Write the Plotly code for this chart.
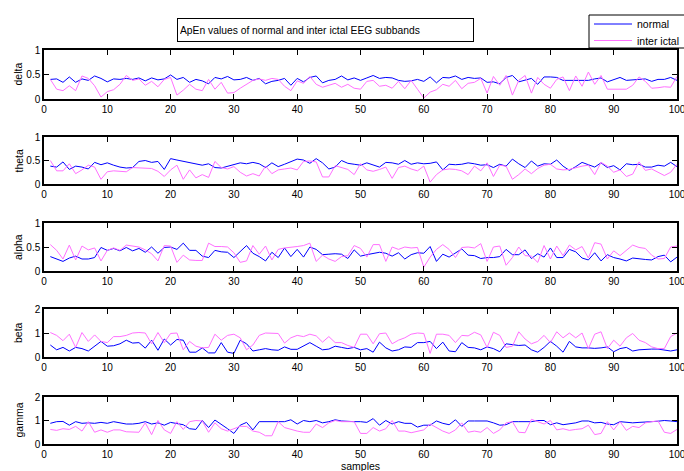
import plotly.graph_objects as go

samples = list(range(1, 101))

delta_normal = [0.40,0.41,0.34,0.45,0.34,0.41,0.38,0.47,0.42,0.35,0.41,0.40,0.42,0.40,0.43,0.37,0.43,0.39,0.41,0.49,
                0.40,0.44,0.34,0.40,0.37,0.31,0.44,0.41,0.46,0.39,0.40,0.44,0.38,0.42,0.31,0.36,0.38,0.42,0.28,0.42,
                0.35,0.44,0.47,0.33,0.38,0.40,0.47,0.39,0.43,0.38,0.43,0.48,0.42,0.44,0.43,0.38,0.36,0.37,0.40,0.36,
                0.45,0.33,0.44,0.43,0.47,0.40,0.44,0.42,0.43,0.34,0.35,0.31,0.44,0.48,0.35,0.39,0.42,0.30,0.45,0.45,
                0.44,0.38,0.38,0.38,0.37,0.38,0.41,0.43,0.35,0.39,0.44,0.38,0.39,0.39,0.41,0.36,0.40,0.40,0.44,0.38]
delta_ictal = [0.40,0.20,0.17,0.27,0.17,0.47,0.42,0.27,0.04,0.15,0.19,0.30,0.48,0.38,0.41,0.28,0.36,0.25,0.40,0.44,
               0.08,0.18,0.30,0.20,0.17,0.40,0.20,0.34,0.12,0.13,0.22,0.30,0.38,0.41,0.38,0.42,0.40,0.26,0.17,0.37,
               0.32,0.46,0.30,0.24,0.28,0.32,0.24,0.30,0.22,0.20,0.36,0.38,0.26,0.28,0.22,0.36,0.21,0.38,0.20,0.02,
               0.14,0.19,0.30,0.26,0.38,0.21,0.32,0.34,0.42,0.12,0.46,0.28,0.48,0.08,0.38,0.48,0.12,0.44,0.30,0.22,
               0.40,0.45,0.17,0.47,0.26,0.55,0.30,0.48,0.20,0.20,0.19,0.20,0.28,0.45,0.36,0.22,0.23,0.25,0.24,0.46]

theta_normal = [0.38,0.36,0.47,0.31,0.38,0.36,0.32,0.46,0.41,0.45,0.40,0.36,0.34,0.35,0.48,0.50,0.46,0.48,0.31,0.54,
                0.51,0.48,0.45,0.42,0.40,0.43,0.35,0.34,0.38,0.41,0.45,0.43,0.46,0.43,0.35,0.45,0.37,0.42,0.48,0.53,
                0.51,0.44,0.54,0.45,0.32,0.36,0.50,0.44,0.42,0.40,0.45,0.41,0.36,0.46,0.45,0.42,0.50,0.42,0.45,0.43,
                0.44,0.47,0.30,0.42,0.41,0.42,0.45,0.43,0.40,0.41,0.35,0.42,0.38,0.53,0.43,0.35,0.49,0.38,0.43,0.42,
                0.51,0.38,0.29,0.37,0.46,0.41,0.36,0.45,0.35,0.39,0.30,0.43,0.41,0.42,0.36,0.36,0.40,0.38,0.46,0.37]
theta_ictal = [0.50,0.28,0.28,0.43,0.22,0.30,0.40,0.36,0.10,0.26,0.28,0.27,0.26,0.35,0.34,0.33,0.33,0.27,0.16,0.30,
               0.40,0.10,0.30,0.13,0.20,0.14,0.48,0.35,0.32,0.37,0.25,0.17,0.22,0.17,0.38,0.22,0.30,0.32,0.34,0.30,
               0.48,0.49,0.47,0.15,0.15,0.39,0.35,0.31,0.20,0.43,0.30,0.27,0.31,0.36,0.12,0.35,0.38,0.32,0.28,0.38,
               0.04,0.20,0.30,0.32,0.31,0.28,0.20,0.38,0.28,0.45,0.16,0.40,0.38,0.10,0.20,0.32,0.22,0.33,0.40,0.42,
               0.32,0.30,0.31,0.35,0.38,0.40,0.20,0.46,0.38,0.25,0.30,0.16,0.21,0.47,0.29,0.32,0.25,0.18,0.25,0.42]

alpha_normal = [0.30,0.25,0.20,0.27,0.31,0.25,0.25,0.28,0.49,0.43,0.47,0.42,0.49,0.42,0.47,0.39,0.50,0.37,0.49,0.50,
                0.45,0.58,0.43,0.43,0.31,0.28,0.43,0.40,0.39,0.28,0.40,0.53,0.37,0.30,0.21,0.39,0.28,0.48,0.30,0.45,
                0.29,0.50,0.45,0.34,0.35,0.36,0.35,0.26,0.44,0.31,0.34,0.37,0.39,0.37,0.31,0.38,0.25,0.34,0.38,0.37,
                0.51,0.20,0.35,0.29,0.38,0.46,0.33,0.32,0.26,0.28,0.28,0.30,0.45,0.34,0.34,0.44,0.26,0.36,0.29,0.48,
                0.28,0.28,0.45,0.40,0.27,0.23,0.38,0.21,0.34,0.28,0.25,0.21,0.27,0.25,0.24,0.23,0.30,0.33,0.19,0.29]
alpha_ictal = [0.55,0.43,0.25,0.54,0.23,0.52,0.44,0.48,0.21,0.43,0.48,0.43,0.54,0.52,0.50,0.44,0.36,0.21,0.53,0.52,
               0.18,0.33,0.23,0.22,0.22,0.58,0.51,0.51,0.50,0.38,0.18,0.21,0.53,0.35,0.52,0.23,0.45,0.48,0.49,0.51,
               0.53,0.58,0.20,0.33,0.25,0.20,0.30,0.32,0.53,0.47,0.29,0.55,0.55,0.20,0.50,0.45,0.50,0.48,0.49,0.08,
               0.29,0.45,0.55,0.45,0.28,0.49,0.50,0.48,0.57,0.20,0.50,0.52,0.12,0.28,0.50,0.32,0.31,0.18,0.53,0.25,
               0.52,0.32,0.54,0.44,0.51,0.27,0.59,0.56,0.25,0.42,0.32,0.44,0.54,0.49,0.47,0.33,0.25,0.26,0.50,0.52]

beta_normal = [0.50,0.30,0.40,0.25,0.40,0.35,0.25,0.45,0.65,0.45,0.47,0.55,0.70,0.58,0.60,0.37,0.70,0.28,0.75,0.50,
               0.73,0.70,0.20,0.20,0.38,0.17,0.17,0.60,0.20,0.15,0.70,0.55,0.25,0.30,0.35,0.30,0.28,0.42,0.32,0.32,
               0.45,0.60,0.45,0.30,0.33,0.45,0.40,0.35,0.40,0.30,0.35,0.20,0.62,0.38,0.25,0.30,0.42,0.40,0.60,0.60,
               0.65,0.35,0.62,0.25,0.22,0.60,0.40,0.38,0.30,0.42,0.35,0.22,0.55,0.52,0.48,0.50,0.30,0.20,0.40,0.65,
               0.45,0.20,0.65,0.42,0.38,0.38,0.36,0.38,0.42,0.22,0.35,0.40,0.25,0.30,0.33,0.33,0.33,0.30,0.25,0.30]
beta_ictal = [1.02,0.90,0.68,0.95,0.40,1.02,0.65,0.92,0.65,0.60,0.85,0.85,0.90,1.00,1.02,1.00,0.55,1.02,0.60,0.98,
              1.00,0.30,0.65,0.45,0.38,0.40,0.95,0.70,0.90,0.95,0.80,0.30,0.50,0.90,1.00,1.00,0.98,0.58,0.80,0.90,
              0.85,0.95,0.88,0.62,0.85,0.60,0.60,0.48,0.40,0.95,0.95,0.55,0.97,1.00,0.55,0.70,0.80,0.95,1.00,0.98,
              0.15,0.95,0.95,0.90,0.60,0.90,0.88,1.03,0.92,0.40,1.03,0.90,0.40,0.45,1.05,0.75,0.55,0.65,0.90,0.60,
              1.05,0.80,1.00,0.80,1.00,0.35,0.95,1.05,0.35,0.70,0.45,0.80,0.98,0.70,0.60,0.42,0.35,0.35,0.85,1.00]

gamma_normal = [0.88,0.95,0.96,0.80,0.95,0.88,0.90,0.88,0.92,0.88,0.95,0.90,0.85,0.85,0.88,0.95,0.85,0.90,0.80,0.92,
                0.88,0.82,0.65,0.62,1.00,0.70,1.02,0.85,0.65,0.45,0.80,0.92,0.60,0.95,0.95,0.98,0.98,0.95,1.03,0.85,
                1.00,0.95,1.00,0.90,0.95,1.03,0.98,0.95,0.95,0.95,0.92,1.08,0.80,1.00,0.85,0.95,0.88,0.88,0.72,0.80,
                0.80,0.98,0.88,0.82,1.03,0.75,0.98,0.98,0.98,0.98,0.90,0.80,0.82,0.95,0.95,0.95,0.95,1.00,1.00,0.82,
                0.90,0.82,0.85,0.90,0.98,0.98,0.90,0.92,0.85,0.82,0.95,0.93,0.90,0.92,0.95,0.95,0.97,1.00,0.98,0.95]
gamma_ictal = [0.62,0.58,0.65,0.62,0.75,0.55,0.95,0.50,0.60,0.50,0.60,0.60,0.52,0.50,0.50,0.90,0.40,1.00,0.60,0.45,
               0.95,0.62,0.95,1.00,0.98,0.50,0.90,0.65,0.55,0.65,0.75,0.75,0.55,0.50,0.35,0.35,0.95,0.70,0.62,0.55,
               0.50,0.50,0.85,0.70,0.90,1.00,0.95,0.95,0.95,0.45,0.45,0.70,0.55,0.65,1.00,0.55,0.55,0.48,0.55,0.60,
               0.85,0.70,0.55,0.45,0.60,0.90,0.50,0.55,0.50,0.70,0.45,0.60,0.90,0.95,0.50,0.48,1.05,0.95,0.85,1.00,
               0.60,0.65,0.58,0.62,0.65,0.80,0.40,0.45,0.95,0.60,0.95,0.58,0.75,0.70,0.90,0.95,0.98,0.50,0.45,0.62]

band_names = ["delta", "theta", "alpha", "beta", "gamma"]
normal_series = [delta_normal, theta_normal, alpha_normal, beta_normal, gamma_normal]
ictal_series = [delta_ictal, theta_ictal, alpha_ictal, beta_ictal, gamma_ictal]
y_max = [1, 1, 1, 2, 2]
y_tickvals = [[0, 0.5, 1], [0, 0.5, 1], [0, 0.5, 1], [0, 1, 2], [0, 1, 2]]
y_ticktext = [["0", "0.5", "1"], ["0", "0.5", "1"], ["0", "0.5", "1"], ["0", "1", "2"], ["0", "1", "2"]]
x_tickvals = list(range(0, 101, 10))

title_text = "ApEn values of normal and inter ictal EEG subbands"
x_title = "samples"
legend_names = ["normal", "inter ictal"]

W, H = 684, 471
FONT = "Liberation Sans, Arial, sans-serif"
BLUE = "#0000ff"
PINK = "#ff70ff"

# pixel layout of the five panels (top, bottom)
panel_px = [(50, 99), (137, 184), (223, 271), (309, 357), (397, 444)]
x_left, x_right = 44, 677

legend_common = dict(
    x=589 / W, xanchor="left", yanchor="middle",
    bgcolor="rgba(0,0,0,0)", borderwidth=0,
    font=dict(family=FONT, size=10.5, color="black"),
    itemwidth=38, tracegroupgap=0,
)

fig = go.Figure()
layout = dict(
    width=W, height=H,
    margin=dict(l=0, r=0, t=0, b=0, autoexpand=False),
    paper_bgcolor="white", plot_bgcolor="white",
    font=dict(family=FONT, size=10, color="black"),
    showlegend=True,
    legend=dict(y=1 - 24 / H, **legend_common),
    legend2=dict(y=1 - 40.5 / H, **legend_common),
    shapes=[dict(
        type="rect", xref="paper", yref="paper",
        x0=589 / W, x1=700 / W, y0=1 - 48 / H, y1=1 - 15 / H,
        line=dict(color="black", width=1), fillcolor="white", layer="above",
    )],
)
annotations = []
for i, name in enumerate(band_names):
    n = i + 1
    xa = "x" if n == 1 else f"x{n}"
    ya = "y" if n == 1 else f"y{n}"
    top, bot = panel_px[i]
    fig.add_trace(go.Scatter(x=samples, y=normal_series[i], mode="lines",
                             line=dict(color=BLUE, width=1), name=legend_names[0],
                             showlegend=(i == 0), legend="legend", xaxis=xa, yaxis=ya))
    fig.add_trace(go.Scatter(x=samples, y=ictal_series[i], mode="lines",
                             line=dict(color=PINK, width=1), name=legend_names[1],
                             showlegend=(i == 0), legend="legend2", xaxis=xa, yaxis=ya))
    axkey_x = "xaxis" if n == 1 else f"xaxis{n}"
    axkey_y = "yaxis" if n == 1 else f"yaxis{n}"
    layout[axkey_x] = dict(
        domain=[x_left / W, x_right / W], range=[0, 100], anchor=ya,
        tickvals=x_tickvals, ticks="inside", ticklen=5, tickcolor="black", tickwidth=1,
        showline=True, linecolor="black", linewidth=1.5, mirror="ticks",
        ticklabeloverflow="allow",
        showgrid=False, zeroline=False, tickfont=dict(family=FONT, size=10, color="black"),
    )
    layout[axkey_y] = dict(
        domain=[1 - bot / H, 1 - top / H], range=[0, y_max[i]], anchor=xa,
        tickvals=y_tickvals[i], ticktext=y_ticktext[i], ticks="inside", ticklen=5,
        tickcolor="black", tickwidth=1,
        showline=True, linecolor="black", linewidth=1.5, mirror="ticks",
        showgrid=False, zeroline=False, tickfont=dict(family=FONT, size=10, color="black"),
    )
    annotations.append(dict(
        text=name, textangle=-90, xref="paper", yref="paper",
        x=18 / W, y=1 - (top + bot) / 2 / H, xanchor="center", yanchor="middle",
        showarrow=False, font=dict(family=FONT, size=10.5, color="black"),
    ))

annotations.append(dict(
    text=title_text, xref="paper", yref="paper",
    x=177 / W, y=1 - 18 / H, xanchor="left", yanchor="top",
    showarrow=False, align="left",
    width=291, height=18, bordercolor="black", borderwidth=1, borderpad=2,
    bgcolor="white", font=dict(family=FONT, size=10.3, color="black"),
))
annotations.append(dict(
    text=x_title, xref="paper", yref="paper",
    x=(x_left + x_right) / 2 / W, y=1 - 466 / H, xanchor="center", yanchor="middle",
    showarrow=False, font=dict(family=FONT, size=10.5, color="black"),
))
layout["annotations"] = annotations
fig.update_layout(**layout)
fig.write_html(
    "out.html",
    config={"displayModeBar": False},
    post_script="document.body.style.margin='0';document.body.style.overflow='hidden';",
)
